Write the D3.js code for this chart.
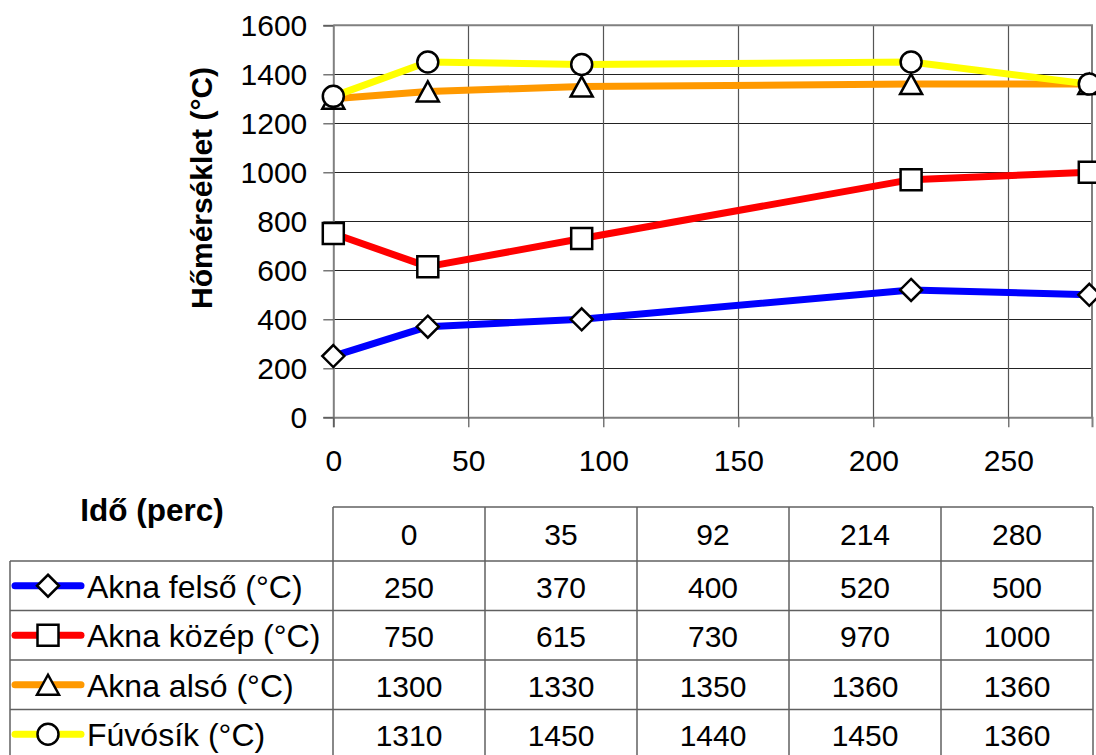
<!DOCTYPE html>
<html>
<head>
<meta charset="utf-8">
<script src="https://cdn.jsdelivr.net/npm/d3@7"></script>
<style>
  html, body { margin: 0; padding: 0; background: #fff; }
  svg { display: block; font-family: "Liberation Sans", Arial, sans-serif; }
</style>
</head>
<body>
<svg id="chart" width="1096" height="755"></svg>
<script>
// ---- data ----
const times = [0, 35, 92, 214, 280];
const seriesNames = ["Akna felső (°C)", "Akna közép (°C)", "Akna alsó (°C)", "Fúvósík (°C)"];
const aknaFelso = [250, 370, 400, 520, 500];
const aknaKozep = [750, 615, 730, 970, 1000];
const aknaAlso = [1300, 1330, 1350, 1360, 1360];
const fuvosik = [1310, 1450, 1440, 1450, 1360];
const seriesColors = ["#0000ff", "#ff0000", "#ff9900", "#ffff00"];
const seriesMarkers = ["diamond", "square", "triangle", "circle"];
const xTicks = [0, 50, 100, 150, 200, 250];
const yTicks = [0, 200, 400, 600, 800, 1000, 1200, 1400, 1600];
const yTitle = "Hőmérséklet (°C)";
const xTitle = "Idő (perc)";

const seriesValues = [aknaFelso, aknaKozep, aknaAlso, fuvosik];

const svg = d3.select("#chart");
const x = d3.scaleLinear().domain([0, 281]).range([333.3, 1092]);
const y = d3.scaleLinear().domain([0, 1600]).range([417.3, 25.3]);

// gridlines
const grid = svg.append("g");
grid.selectAll("line.h").data(yTicks.slice(1)).join("line")
  .attr("x1", x(0)).attr("x2", x.range()[1])
  .attr("y1", d => Math.round(y(d)) + 0.5).attr("y2", d => Math.round(y(d)) + 0.5)
  .attr("stroke", "#222").attr("stroke-width", 1.2);
grid.selectAll("line.v").data(xTicks.slice(1)).join("line")
  .attr("x1", d => Math.round(x(d)) + 0.5).attr("x2", d => Math.round(x(d)) + 0.5)
  .attr("y1", y(1600)).attr("y2", y(0))
  .attr("stroke", "#555").attr("stroke-width", 1.2);

// border top/right
svg.append("path")
  .attr("d", `M${x(0)},${y(1600)}H${x.range()[1]}V${y(0)}`)
  .attr("fill", "none").attr("stroke", "#808080").attr("stroke-width", 2);

// axes
const yAxis = d3.axisLeft(y).tickValues(yTicks).tickSize(10).tickPadding(16).tickFormat(d3.format("d"));
const gy = svg.append("g").attr("transform", `translate(${x(0)},0)`).call(yAxis);
const xAxis = d3.axisBottom(x).tickValues(xTicks).tickSize(10).tickPadding(22).tickFormat(d3.format("d"));
const gx = svg.append("g").attr("transform", `translate(0,${y(0)})`).call(xAxis);
[gx, gy].forEach(g => {
  g.select(".domain").attr("stroke", "#808080").attr("stroke-width", 2);
  g.selectAll(".tick line").attr("stroke", "#555").attr("stroke-width", 1.2);
  g.selectAll(".tick text").attr("fill", "#000").style("font-size", "30px")
    .style("font-family", "'Liberation Sans', Arial, sans-serif");
});
gy.selectAll(".tick text").attr("dy", "0.35em");
gx.selectAll(".tick text").attr("dy", "0.72em");

// y title
svg.append("text")
  .attr("transform", `translate(212,188) rotate(-90)`)
  .attr("text-anchor", "middle")
  .style("font-size", "30px").style("font-weight", "bold")
  .text(yTitle);

// marker path generator
function markerPath(type) {
  if (type === "diamond") return "M0,-11L11,0L0,11L-11,0Z";
  if (type === "square") return "M-10.5,-10.5H10.5V10.5H-10.5Z";
  if (type === "triangle") return "M0,-10L11,10H-11Z";
  return d3.symbol(d3.symbolCircle, Math.PI * 10.5 * 10.5)();
}

// series
const line = d3.line().x((d, i) => x(times[i])).y(d => y(d));
seriesValues.forEach((vals, si) => {
  const g = svg.append("g");
  g.append("path").datum(vals)
    .attr("d", line)
    .attr("fill", "none").attr("stroke", seriesColors[si])
    .attr("stroke-width", 7).attr("stroke-linejoin", "round");
  g.selectAll("path.m").data(vals).join("path")
    .attr("class", "m")
    .attr("transform", (d, i) => `translate(${x(times[i])},${y(d)})`)
    .attr("d", markerPath(seriesMarkers[si]))
    .attr("fill", "#fff").attr("stroke", "#000").attr("stroke-width", 2.5);
});

// ---- data table ----
const colW = 152;
const colX = times.map((t, i) => 333 + i * colW);
const tableRight = 333 + times.length * colW;
const headerTop = 507, headerBottom = 561, rowH = 49.5;
const rowTops = seriesNames.map((s, i) => headerBottom + i * rowH);
const tableBottom = headerBottom + seriesNames.length * rowH;
const tcol = "#606060";
const tbl = svg.append("g");

// horizontal lines
tbl.append("line").attr("x1", 333).attr("x2", tableRight).attr("y1", headerTop).attr("y2", headerTop)
  .attr("stroke", tcol).attr("stroke-width", 1.5);
tbl.selectAll("line.rh").data(rowTops).join("line")
  .attr("x1", 10).attr("x2", tableRight).attr("y1", d => d).attr("y2", d => d)
  .attr("stroke", tcol).attr("stroke-width", 1.5);
// vertical lines
tbl.selectAll("line.cv").data(colX.concat([tableRight])).join("line")
  .attr("x1", d => d).attr("x2", d => d).attr("y1", headerTop).attr("y2", tableBottom)
  .attr("stroke", tcol).attr("stroke-width", 1.5);
tbl.append("line").attr("x1", 10).attr("x2", 10).attr("y1", headerBottom).attr("y2", tableBottom)
  .attr("stroke", tcol).attr("stroke-width", 1.5);

// header texts
tbl.selectAll("text.hd").data(times).join("text")
  .attr("x", (d, i) => colX[i] + colW / 2).attr("y", (headerTop + headerBottom) / 2 + 11)
  .attr("text-anchor", "middle").style("font-size", "30px").text(d => d);

svg.append("text").attr("x", 152).attr("y", 521)
  .attr("text-anchor", "middle").style("font-size", "31.5px").style("font-weight", "bold")
  .text(xTitle);

// rows
seriesNames.forEach((name, si) => {
  const cy = rowTops[si] + rowH / 2;
  const g = tbl.append("g");
  g.append("line").attr("x1", 15).attr("x2", 81).attr("y1", cy).attr("y2", cy)
    .attr("stroke", seriesColors[si]).attr("stroke-width", 7).attr("stroke-linecap", "round");
  g.append("path").attr("transform", `translate(48,${cy})`)
    .attr("d", markerPath(seriesMarkers[si]))
    .attr("fill", "#fff").attr("stroke", "#000").attr("stroke-width", 2.5);
  g.append("text").attr("x", 87).attr("y", cy + 12)
    .style("font-size", "32px").text(name);
  g.selectAll("text.v").data(seriesValues[si]).join("text")
    .attr("x", (d, i) => colX[i] + colW / 2).attr("y", cy + 12)
    .attr("text-anchor", "middle").style("font-size", "30px").text(d => d);
});
</script>
</body>
</html>
